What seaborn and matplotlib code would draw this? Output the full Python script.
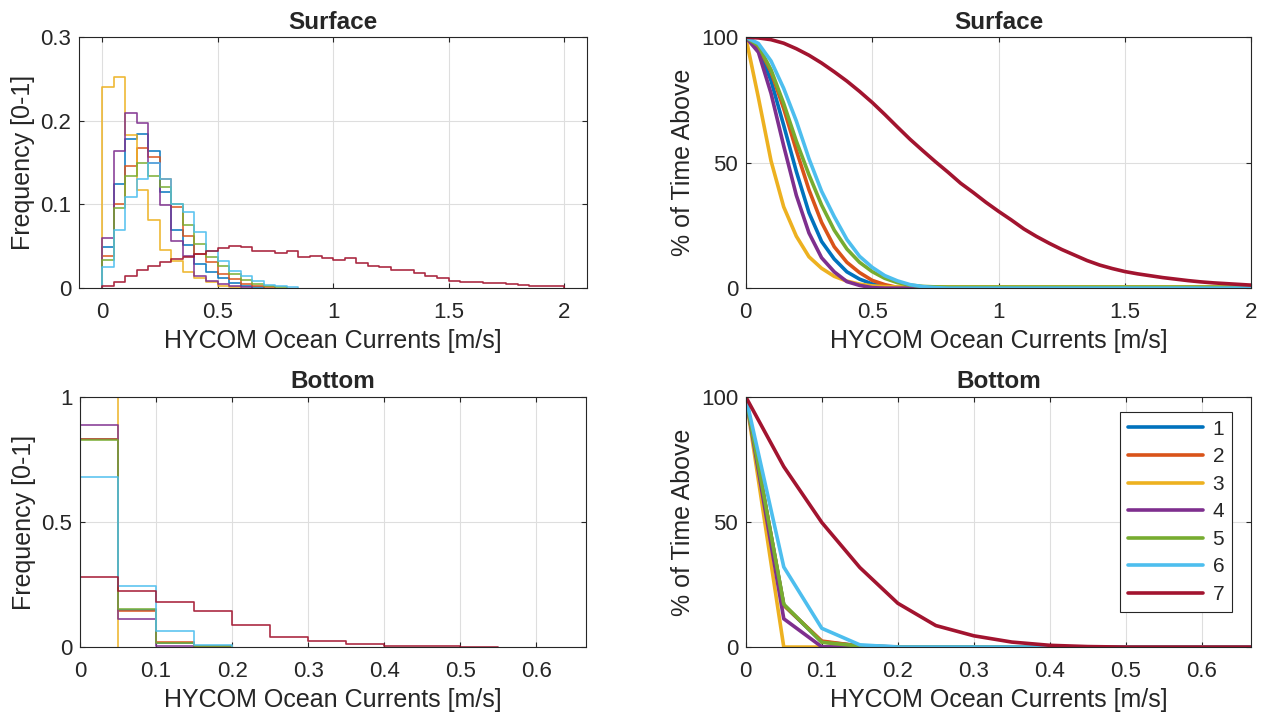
import numpy as np
import pandas as pd
import matplotlib.pyplot as plt
from matplotlib.ticker import FuncFormatter
import seaborn as sns

# bin width used by all histograms [m/s]
BIN = 0.05

series_names = ["1", "2", "3", "4", "5", "6", "7"]
colors = ["#0072BD", "#D95319", "#EDB120", "#7E2F8E", "#77AC30", "#4DBEEE", "#A2142F"]

# Surface currents: frequency per 0.05 m/s bin, first bin starts at 0
surf_1 = [0.049, 0.124, 0.178, 0.184, 0.164, 0.115, 0.070, 0.051, 0.029, 0.019,
          0.012, 0.006, 0.003, 0.001]
surf_2 = [0.038, 0.100, 0.146, 0.167, 0.157, 0.130, 0.097, 0.062, 0.041, 0.031,
          0.017, 0.011, 0.005, 0.002, 0.001]
surf_3 = [0.241, 0.252, 0.183, 0.117, 0.082, 0.046, 0.032, 0.019, 0.012, 0.007,
          0.003, 0.001]
surf_4 = [0.060, 0.164, 0.209, 0.197, 0.150, 0.099, 0.056, 0.039, 0.015, 0.009,
          0.005, 0.002, 0.001]
surf_5 = [0.034, 0.096, 0.134, 0.150, 0.134, 0.121, 0.100, 0.075, 0.053, 0.037,
          0.027, 0.017, 0.010, 0.005, 0.002, 0.001]
surf_6 = [0.025, 0.070, 0.109, 0.130, 0.150, 0.130, 0.101, 0.091, 0.067, 0.044,
          0.033, 0.021, 0.015, 0.008, 0.004, 0.002, 0.001]
surf_7 = [0.003, 0.007, 0.014, 0.022, 0.026, 0.031, 0.035, 0.037, 0.041, 0.044,
          0.048, 0.050, 0.049, 0.045, 0.044, 0.042, 0.044, 0.037, 0.039, 0.036,
          0.034, 0.036, 0.030, 0.027, 0.025, 0.022, 0.022, 0.018, 0.014, 0.012,
          0.009, 0.0075, 0.0075, 0.006, 0.006, 0.005, 0.004, 0.003, 0.003, 0.003]

# Bottom currents
bot_1 = [0.832, 0.147, 0.016, 0.004]
bot_2 = [0.833, 0.143, 0.020, 0.004]
bot_3 = [1.000]
bot_4 = [0.887, 0.112, 0.005]
bot_5 = [0.829, 0.152, 0.015, 0.004]
bot_6 = [0.680, 0.245, 0.066, 0.009]
bot_7 = [0.279, 0.223, 0.180, 0.143, 0.089, 0.041, 0.025, 0.013, 0.005, 0.003, 0.002]

surface = [surf_1, surf_2, surf_3, surf_4, surf_5, surf_6, surf_7]
bottom = [bot_1, bot_2, bot_3, bot_4, bot_5, bot_6, bot_7]

sns.set_style("ticks")
plt.rcParams.update({
    "font.family": ["Liberation Sans", "DejaVu Sans"],
    "axes.edgecolor": "#262626",
    "axes.linewidth": 0.8,
    "axes.labelcolor": "#262626",
    "xtick.color": "#262626",
    "ytick.color": "#262626",
    "xtick.direction": "in",
    "ytick.direction": "in",
    "xtick.top": True,
    "ytick.right": True,
    "xtick.major.size": 3.5,
    "ytick.major.size": 3.5,
    "xtick.major.width": 0.8,
    "ytick.major.width": 0.8,
    "xtick.labelsize": 16,
    "ytick.labelsize": 16,
    "axes.labelsize": 18,
    "grid.color": "#dedede",
    "grid.linewidth": 0.8,
})


def exceed_frame(data, n_edges):
    # percent of time above each bin edge (frequencies are fractions of all samples)
    rows = []
    for name, f in zip(series_names, data):
        pct = 100 * (1 - np.r_[0, np.cumsum(f)])
        pct = np.clip(pct, 0, 100)
        pct = np.pad(pct, (0, n_edges - len(pct)), mode="edge")
        rows.append(pd.DataFrame({"speed": np.arange(n_edges) * BIN,
                                  "pct": pct, "series": name}))
    return pd.concat(rows, ignore_index=True)


def draw_hist(ax, data):
    for f, c in zip(data, colors):
        n = len(f)
        edges = np.arange(n + 1) * BIN
        df = pd.DataFrame({"center": edges[:-1] + BIN / 2, "freq": f})
        # tiny empty bins at the ends so the outline drops to zero
        bins = [-1e-6] + list(edges) + [edges[-1] + 1e-6]
        sns.histplot(data=df, x="center", weights="freq", bins=bins,
                     element="step", fill=False, color=c, linewidth=1.2,
                     alpha=0.9, ax=ax)


def style(ax, title, ylabel):
    ax.set_title(title, fontsize=17.5, fontweight="bold", pad=6)
    ax.set_xlabel("HYCOM Ocean Currents [m/s]", labelpad=4)
    ax.set_ylabel(ylabel, labelpad=4)
    ax.grid(True)
    ax.set_axisbelow(True)
    ax.tick_params(axis="x", pad=10)
    ax.tick_params(axis="y", pad=5.5)
    fmt = FuncFormatter(lambda v, p: "%g" % round(v, 6))
    ax.xaxis.set_major_formatter(fmt)
    ax.yaxis.set_major_formatter(fmt)
    for s in ax.spines.values():
        s.set_visible(True)


fig = plt.figure(figsize=(12.64, 7.15), dpi=100)
ax1 = fig.add_axes([0.0625, 0.597, 0.402, 0.351])
ax2 = fig.add_axes([0.590, 0.597, 0.400, 0.351])
ax3 = fig.add_axes([0.0633, 0.095, 0.400, 0.350])
ax4 = fig.add_axes([0.590, 0.095, 0.400, 0.350])

# Surface histogram
draw_hist(ax1, surface)
ax1.set_xlim(-0.1, 2.1)
ax1.set_ylim(0, 0.3)
ax1.set_xticks([0, 0.5, 1, 1.5, 2])
ax1.set_yticks([0, 0.1, 0.2, 0.3])
style(ax1, "Surface", "Frequency [0-1]")

# Surface exceedance
df_s = exceed_frame(surface, 41)
sns.lineplot(data=df_s, x="speed", y="pct", hue="series", palette=colors,
             estimator=None, linewidth=2.6, legend=False, ax=ax2)
ax2.set_xlim(0, 2)
ax2.set_ylim(0, 100)
ax2.set_xticks([0, 0.5, 1, 1.5, 2])
ax2.set_yticks([0, 50, 100])
style(ax2, "Surface", "% of Time Above")

# Bottom histogram
draw_hist(ax3, bottom)
ax3.set_xlim(0, 0.665)
ax3.set_ylim(0, 1)
ax3.set_xticks(np.arange(0, 0.61, 0.1))
ax3.set_yticks([0, 0.5, 1])
style(ax3, "Bottom", "Frequency [0-1]")

# Bottom exceedance
df_b = exceed_frame(bottom, 15)
sns.lineplot(data=df_b, x="speed", y="pct", hue="series", palette=colors,
             estimator=None, linewidth=2.6, ax=ax4)
ax4.set_xlim(0, 0.665)
ax4.set_ylim(0, 100)
ax4.set_xticks(np.arange(0, 0.61, 0.1))
ax4.set_yticks([0, 50, 100])
style(ax4, "Bottom", "% of Time Above")
handles, labels = ax4.get_legend_handles_labels()
ax4.legend(handles, labels, loc="upper right", bbox_to_anchor=(0.962, 0.94),
           borderaxespad=0, fontsize=15, frameon=True, fancybox=False,
           edgecolor="#262626", framealpha=1, handlelength=3.6,
           labelspacing=0.41, handletextpad=0.45, borderpad=0.38)
ax4.get_legend().get_frame().set_linewidth(0.8)

fig.savefig("out.png", dpi=100)
